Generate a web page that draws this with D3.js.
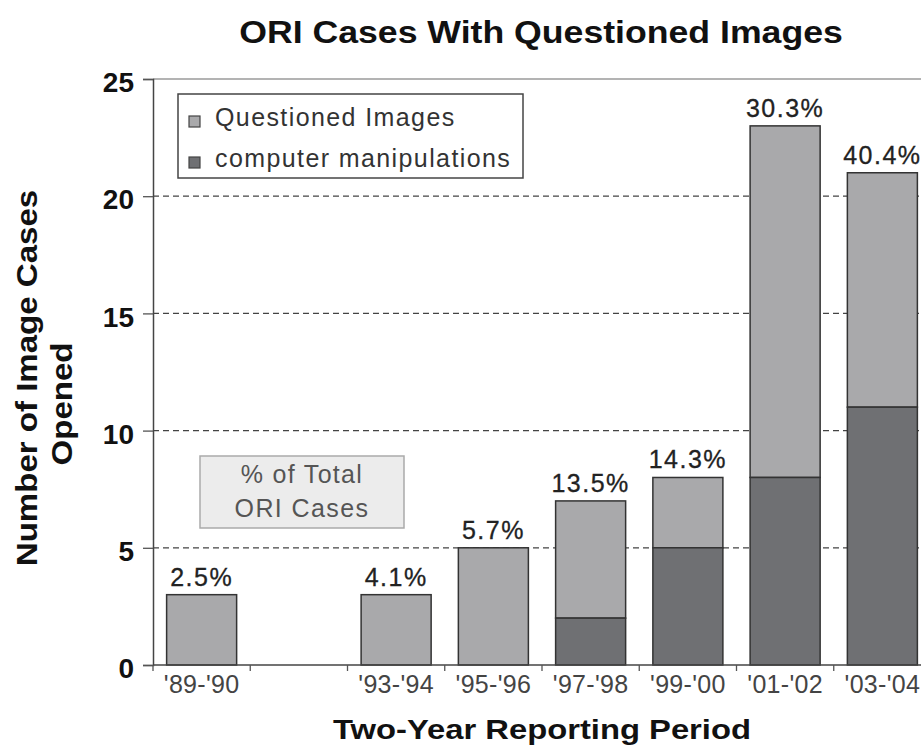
<!DOCTYPE html>
<html>
<head>
<meta charset="utf-8">
<script src="https://cdn.jsdelivr.net/npm/d3@7"></script>
<style>
  body { margin: 0; background: #fff; }
  svg { display: block; font-family: "Liberation Sans", Arial, sans-serif; }
</style>
</head>
<body>
<svg id="chart"></svg>
<script>
const width = 921;
const height = 747;

// data
const periods = ["'89-'90", "'91-'92", "'93-'94", "'95-'96", "'97-'98", "'99-'00", "'01-'02", "'03-'04"];
const tickLabels = ["'89-'90", "", "'93-'94", "'95-'96", "'97-'98", "'99-'00", "'01-'02", "'03-'04"];
const questioned = [3, 0, 3, 5, 7, 8, 23, 21];
const manipulations = [0, 0, 0, 0, 2, 5, 8, 11];
const pctOfTotal = ["2.5%", "", "4.1%", "5.7%", "13.5%", "14.3%", "30.3%", "40.4%"];
const yTicks = [0, 5, 10, 15, 20, 25];

const lightGrey = "#a9a9ab";
const darkGrey = "#6f7073";

const svg = d3.select("#chart")
    .attr("width", width)
    .attr("height", height);

// plot runs past the right edge of the picture, like the original
const xScale = d3.scaleBand()
    .domain(periods)
    .range([153, 931])
    .paddingInner(0.28)
    .paddingOuter(0.14);

const yScale = d3.scaleLinear()
    .domain([0, 25])
    .range([665, 79]);

const step = xScale.step();
const gapHalf = step * xScale.paddingInner() / 2;

// top frame line and dashed grid
svg.append("line")
    .attr("x1", 153).attr("x2", width)
    .attr("y1", yScale(25)).attr("y2", yScale(25))
    .attr("stroke", "#9a9a9a")
    .attr("stroke-width", 1.5);

svg.append("g")
    .selectAll("line")
    .data(yTicks.filter(d => d > 0 && d < 25))
    .enter()
    .append("line")
        .attr("x1", 153).attr("x2", width)
        .attr("y1", d => yScale(d)).attr("y2", d => yScale(d))
        .attr("stroke", "#444")
        .attr("stroke-width", 1.3)
        .attr("stroke-dasharray", "6,4");

// bars: light total, dark manipulations on the bottom
const rows = periods.map((p, i) => ({ period: p, total: questioned[i], manip: manipulations[i], pct: pctOfTotal[i] }));

svg.append("g")
    .selectAll("rect")
    .data(rows.filter(d => d.total > 0))
    .enter()
    .append("rect")
        .attr("x", d => xScale(d.period))
        .attr("y", d => yScale(d.total))
        .attr("width", xScale.bandwidth())
        .attr("height", d => yScale(d.manip) - yScale(d.total))
        .attr("fill", lightGrey)
        .attr("stroke", "#333")
        .attr("stroke-width", 1.5);

svg.append("g")
    .selectAll("rect")
    .data(rows.filter(d => d.manip > 0))
    .enter()
    .append("rect")
        .attr("x", d => xScale(d.period))
        .attr("y", d => yScale(d.manip))
        .attr("width", xScale.bandwidth())
        .attr("height", d => yScale(0) - yScale(d.manip))
        .attr("fill", darkGrey)
        .attr("stroke", "#333")
        .attr("stroke-width", 1.5);

// percentage labels
svg.append("g")
    .selectAll("text")
    .data(rows.filter(d => d.pct !== ""))
    .enter()
    .append("text")
        .attr("x", d => xScale(d.period) + xScale.bandwidth() / 2)
        .attr("y", d => yScale(d.total) - 9)
        .attr("text-anchor", "middle")
        .style("font-size", "25px")
        .style("letter-spacing", "1.5px")
        .style("fill", "#222")
        .style("stroke", "#222")
        .style("stroke-width", 0.3)
        .text(d => d.pct);

// y axis
const yAxis = svg.append("g")
    .attr("transform", "translate(153,0)")
    .call(d3.axisLeft(yScale).tickValues(yTicks).tickSize(10).tickPadding(9));
yAxis.select(".domain").attr("stroke", "#444").attr("stroke-width", 1.5);
yAxis.selectAll(".tick line").attr("stroke", "#555").attr("stroke-width", 1.3);
yAxis.selectAll(".tick text")
    .attr("dy", "0.45em")
    .style("font-size", "28px")
    .style("font-weight", "bold")
    .style("fill", "#111");

// x axis: labels under band centres, ticks between bands
const xAxis = svg.append("g")
    .attr("transform", `translate(0,${yScale(0)})`)
    .call(d3.axisBottom(xScale).tickSize(0).tickPadding(10).tickFormat((d, i) => tickLabels[i]));
xAxis.select(".domain").remove();
xAxis.selectAll(".tick text")
    .style("font-size", "25px")
    .style("letter-spacing", "0.3px")
    .style("fill", "#444");

svg.append("line")
    .attr("x1", 153).attr("x2", width)
    .attr("y1", yScale(0)).attr("y2", yScale(0))
    .attr("stroke", "#444")
    .attr("stroke-width", 1.5);

svg.append("g")
    .selectAll("line")
    .data(periods)
    .enter()
    .append("line")
        .attr("x1", d => xScale(d) - gapHalf).attr("x2", d => xScale(d) - gapHalf)
        .attr("y1", yScale(0)).attr("y2", yScale(0) + 6)
        .attr("stroke", "#555")
        .attr("stroke-width", 1.3);

// legend
const legend = svg.append("g");
legend.append("rect")
    .attr("x", 178).attr("y", 94)
    .attr("width", 345).attr("height", 84)
    .attr("fill", "#fff")
    .attr("stroke", "#444")
    .attr("stroke-width", 1.5);

const legendItems = [
    { label: "Questioned Images", color: lightGrey, y: 126 },
    { label: "computer manipulations", color: darkGrey, y: 167 }
];
legendItems.forEach(item => {
    legend.append("rect")
        .attr("x", 189).attr("y", item.y - 10)
        .attr("width", 11).attr("height", 11)
        .attr("fill", item.color)
        .attr("stroke", "#444")
        .attr("stroke-width", 1.2);
    legend.append("text")
        .attr("x", 215).attr("y", item.y)
        .style("font-size", "25px")
        .style("letter-spacing", "1.4px")
        .style("fill", "#333")
        .text(item.label);
});

// "% of Total ORI Cases" note box
svg.append("rect")
    .attr("x", 200).attr("y", 456)
    .attr("width", 204).attr("height", 72)
    .attr("fill", "#ececec")
    .attr("stroke", "#aaa")
    .attr("stroke-width", 1.5);

svg.append("text")
    .attr("x", 302).attr("y", 483)
    .attr("text-anchor", "middle")
    .style("font-size", "25px")
    .style("letter-spacing", "1.3px")
    .style("fill", "#555")
    .text("% of Total");

svg.append("text")
    .attr("x", 302).attr("y", 517)
    .attr("text-anchor", "middle")
    .style("font-size", "25px")
    .style("letter-spacing", "1.4px")
    .style("fill", "#555")
    .text("ORI Cases");

// title and axis titles (original type is a bit wider than Liberation)
svg.append("text")
    .attr("transform", "translate(541,43) scale(1.15,1)")
    .attr("text-anchor", "middle")
    .style("font-size", "31px")
    .style("font-weight", "bold")
    .style("fill", "#111")
    .text("ORI Cases With Questioned Images");

svg.append("text")
    .attr("transform", "translate(542,739) scale(1.17,1)")
    .attr("text-anchor", "middle")
    .style("font-size", "28px")
    .style("font-weight", "bold")
    .style("fill", "#111")
    .text("Two-Year Reporting Period");

svg.append("text")
    .attr("transform", "translate(37,378) rotate(-90) scale(1.14,1)")
    .attr("text-anchor", "middle")
    .style("font-size", "29px")
    .style("font-weight", "bold")
    .style("fill", "#111")
    .text("Number of Image Cases");

svg.append("text")
    .attr("transform", "translate(72,404) rotate(-90) scale(1.14,1)")
    .attr("text-anchor", "middle")
    .style("font-size", "29px")
    .style("font-weight", "bold")
    .style("fill", "#111")
    .text("Opened");
</script>
</body>
</html>
